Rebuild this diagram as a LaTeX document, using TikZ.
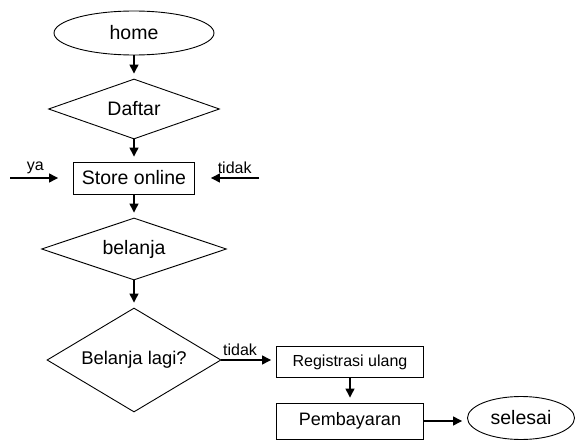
\documentclass[tikz,border=0pt]{standalone}
\usepackage{fontspec}
\setmainfont{Liberation Sans}
\usetikzlibrary{shapes.geometric,arrows.meta}

\tikzset{
  big/.style={font=\fontsize{19.5}{22}\selectfont},
  terminal/.style={draw, ellipse, line width=0.9pt, inner sep=0pt, big},
  decision/.style={draw, diamond, shape aspect=2, line width=0.9pt, inner sep=0pt, big},
  process/.style={draw, rectangle, line width=0.9pt, inner sep=0pt, big},
  arr/.style={line width=1.3pt, -{Triangle[length=9pt,width=9pt]}, shorten >=5pt},
  lbl/.style={font=\fontsize{16}{18}\selectfont, inner sep=1pt}
}

\begin{document}
\begin{tikzpicture}[x=1pt, y=-1pt]
   \useasboundingbox (0,0) rectangle (576,444);

   % main column
   \node[terminal, minimum width=160pt, minimum height=44pt] (home) at (134,33) {home};
   \node[decision, minimum width=171pt, minimum height=60pt] (daftar) at (134,109) {Daftar};
   \node[process, minimum width=121pt, minimum height=32pt] (store) at (134,178) {Store online};
   \node[decision, minimum width=185pt, minimum height=62pt] (belanja) at (134,249) {belanja};
   \node[decision, minimum width=174pt, minimum height=104pt,
         font=\fontsize{18.4}{21}\selectfont] (lagi) at (134,360) {Belanja lagi?};

   % right column
   \node[process, minimum width=147pt, minimum height=31pt,
         font=\fontsize{16}{18}\selectfont] (regis) at (350,362) {Registrasi ulang};
   \node[process, minimum width=147pt, minimum height=36pt,
         font=\fontsize{18}{20}\selectfont] (bayar) at (350,421) {Pembayaran};
   \node[terminal, minimum width=107pt, minimum height=43pt] (selesai) at (521,418) {selesai};

   % loose ends
   \coordinate (ya) at (10,178);
   \coordinate (tdk) at (259,178);

   \draw[arr] (home) -- (daftar);
   \draw[arr] (daftar) -- (store);
   \draw[arr] (store) -- (belanja);
   \draw[arr] (belanja) -- (lagi);
   \draw[arr, shorten >=15pt] (ya) -- node[lbl, above=2.5pt, pos=0.4] {ya} (store.west);
   \draw[arr, shorten >=16pt] (tdk) -- node[lbl, above=2.5pt, pos=0.38] {tidak} (store.east);
   \draw[arr] (lagi.east) -- node[lbl, above=2.5pt, pos=0.34] {tidak} (regis.west |- lagi.east);
   \draw[arr] (regis) -- (bayar);
   \draw[arr] (bayar.east) -- (selesai.west |- bayar.east);

\end{tikzpicture}
\end{document}
